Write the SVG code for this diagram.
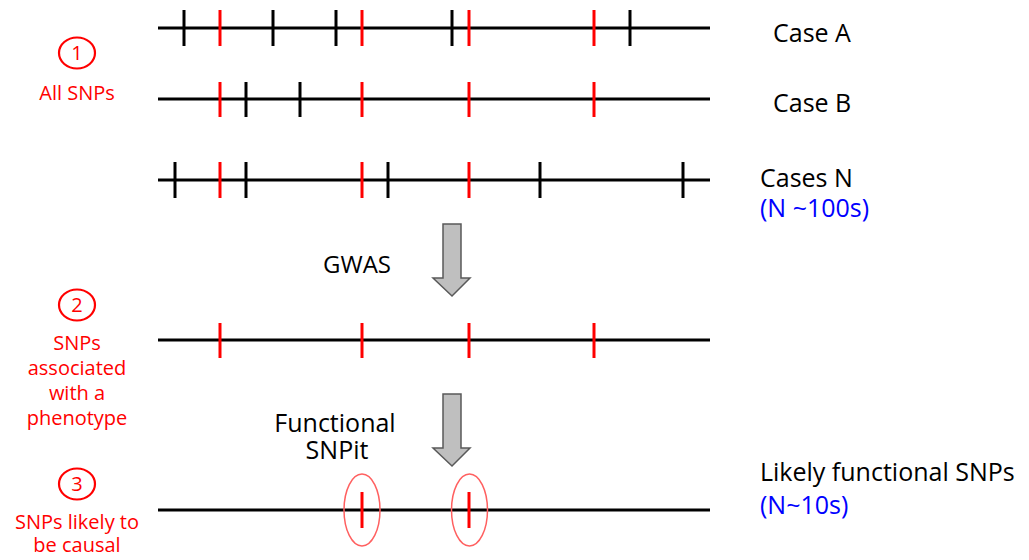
<svg xmlns="http://www.w3.org/2000/svg" width="1029" height="560" viewBox="0 0 1029 560">
  <style>
    .chrom { stroke: #000; stroke-width: 3; }
    .snp { stroke: #000; stroke-width: 3; }
    .hit { stroke: #ff0000; stroke-width: 3; }
    .step { fill: none; stroke: #ff0000; stroke-width: 2.2; }
    .lbl { font-family: "Open Sans", "DejaVu Sans", sans-serif; font-size: 20px; fill: #ff0000; text-anchor: middle; }
    .txt { font-family: "Open Sans", "DejaVu Sans", sans-serif; font-size: 25px; fill: #000; }
    .cnt { font-family: "Open Sans", "DejaVu Sans", sans-serif; font-size: 25px; fill: #0000ff; }
    .flow { fill: #bfbfbf; stroke: #595959; stroke-width: 1.5; }
    .ring { fill: none; stroke: #ff6060; stroke-width: 1.5; }
  </style>
  <rect width="1029" height="560" fill="#fff"/>

  <!-- Step labels -->
  <g id="step1">
    <ellipse class="step" cx="77" cy="53" rx="18" ry="15.5"/>
    <text class="lbl" x="77" y="60">1</text>
    <text class="lbl" x="77" y="100">All SNPs</text>
  </g>
  <g id="step2">
    <ellipse class="step" cx="77" cy="305" rx="18" ry="15.5"/>
    <text class="lbl" x="77" y="312">2</text>
    <text class="lbl" x="77" y="350">SNPs</text>
    <text class="lbl" x="77" y="375">associated</text>
    <text class="lbl" x="77" y="400">with a</text>
    <text class="lbl" x="77" y="425">phenotype</text>
  </g>
  <g id="step3">
    <ellipse class="step" cx="77" cy="484" rx="18" ry="15.5"/>
    <text class="lbl" x="77" y="491">3</text>
    <text class="lbl" x="77" y="529">SNPs likely to</text>
    <text class="lbl" x="77" y="552">be causal</text>
  </g>

  <!-- Case A -->
  <g id="caseA">
    <line class="chrom" x1="158" y1="28" x2="710" y2="28"/>
    <line class="snp" x1="184" y1="10" x2="184" y2="46"/>
    <line class="hit" x1="220" y1="10" x2="220" y2="46"/>
    <line class="snp" x1="273" y1="10" x2="273" y2="46"/>
    <line class="snp" x1="336" y1="10" x2="336" y2="46"/>
    <line class="hit" x1="362" y1="10" x2="362" y2="46"/>
    <line class="snp" x1="452" y1="10" x2="452" y2="46"/>
    <line class="hit" x1="469" y1="10" x2="469" y2="46"/>
    <line class="hit" x1="594" y1="10" x2="594" y2="46"/>
    <line class="snp" x1="630" y1="10" x2="630" y2="46"/>
    <text class="txt" x="773" y="42">Case A</text>
  </g>

  <!-- Case B -->
  <g id="caseB">
    <line class="chrom" x1="158" y1="99" x2="710" y2="99"/>
    <line class="hit" x1="220" y1="82" x2="220" y2="117"/>
    <line class="snp" x1="246" y1="82" x2="246" y2="117"/>
    <line class="snp" x1="300" y1="82" x2="300" y2="117"/>
    <line class="hit" x1="362" y1="82" x2="362" y2="117"/>
    <line class="hit" x1="469" y1="82" x2="469" y2="117"/>
    <line class="hit" x1="594" y1="82" x2="594" y2="117"/>
    <text class="txt" x="773" y="112">Case B</text>
  </g>

  <!-- Cases N -->
  <g id="caseN">
    <line class="chrom" x1="158" y1="180" x2="710" y2="180"/>
    <line class="snp" x1="175" y1="162" x2="175" y2="198"/>
    <line class="hit" x1="220" y1="162" x2="220" y2="198"/>
    <line class="snp" x1="246" y1="162" x2="246" y2="198"/>
    <line class="hit" x1="362" y1="162" x2="362" y2="198"/>
    <line class="snp" x1="388" y1="162" x2="388" y2="198"/>
    <line class="hit" x1="469" y1="162" x2="469" y2="198"/>
    <line class="snp" x1="540" y1="162" x2="540" y2="198"/>
    <line class="snp" x1="683" y1="162" x2="683" y2="198"/>
    <text class="txt" x="760" y="187">Cases N</text>
    <text class="cnt" x="760" y="217">(N ~100s)</text>
  </g>

  <!-- Associated SNPs -->
  <g id="associated">
    <line class="chrom" x1="158" y1="340" x2="710" y2="340"/>
    <line class="hit" x1="220" y1="323" x2="220" y2="358"/>
    <line class="hit" x1="362" y1="323" x2="362" y2="358"/>
    <line class="hit" x1="469" y1="323" x2="469" y2="358"/>
    <line class="hit" x1="594" y1="323" x2="594" y2="358"/>
  </g>

  <!-- Functional SNPs -->
  <g id="functional">
    <line class="chrom" x1="158" y1="510" x2="710" y2="510"/>
    <line class="hit" x1="362" y1="492" x2="362" y2="528"/>
    <line class="hit" x1="469" y1="492" x2="469" y2="528"/>
    <ellipse class="ring" cx="362" cy="510" rx="18" ry="36"/>
    <ellipse class="ring" cx="469.5" cy="510" rx="18" ry="36"/>
    <text class="txt" x="760" y="481">Likely functional SNPs</text>
    <text class="cnt" x="760" y="514">(N~10s)</text>
  </g>

  <!-- Process arrows -->
  <g id="connectors">
    <path class="flow" d="M443,224 H461 V278 H470 L452,296 L433,278 H443 Z"/>
    <path class="flow" d="M443,394 H461 V448 H470 L452,466 L433,448 H443 Z"/>
  </g>
  <g id="gwas">
    <text class="txt" x="357" y="273" text-anchor="middle" style="font-size:24px">GWAS</text>
  </g>
  <g id="snpit">
    <text class="txt" x="335" y="432" text-anchor="middle">Functional</text>
    <text class="txt" x="337" y="459" text-anchor="middle">SNPit</text>
  </g>
</svg>
